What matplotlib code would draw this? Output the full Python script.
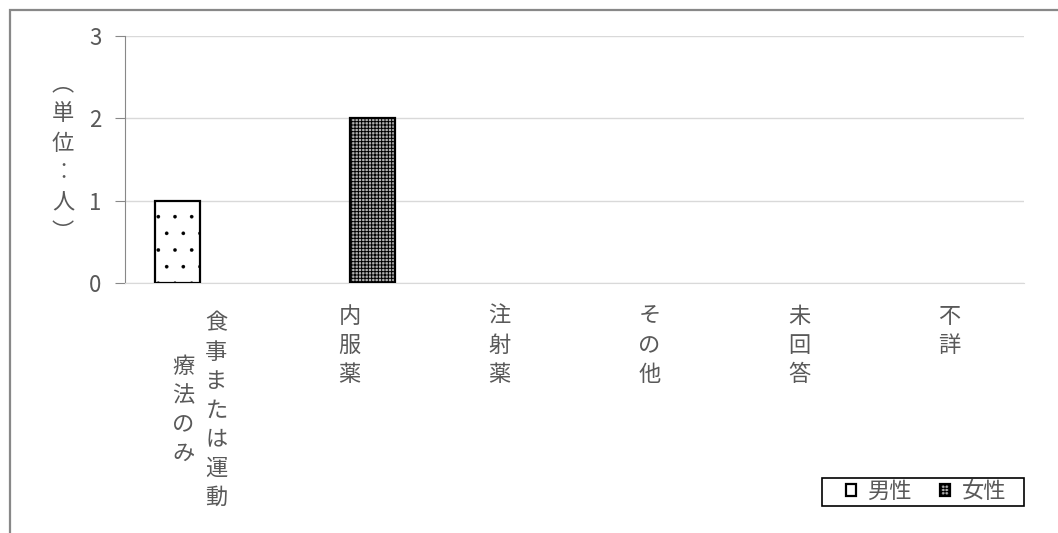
import matplotlib.pyplot as plt
import matplotlib.transforms as mtransforms
from matplotlib.patches import Rectangle
import numpy as np

plt.rcParams['font.family'] = ['Noto Sans CJK JP', 'DejaVu Sans']

############################
# data
############################
categories = ["食事または運動療法のみ", "内服薬", "注射薬", "その他", "未回答", "不詳"]
label_cols = [["食事または運動", "療法のみ"], ["内服薬"], ["注射薬"], ["その他"], ["未回答"], ["不詳"]]
male = [1, 0, 0, 0, 0, 0]
female = [0, 2, 0, 0, 0, 0]
series_names = ["男性", "女性"]
yticks = [0, 1, 2, 3]
ylabel_chars = ["︵", "単", "位", "︰", "人", "︶"]

txt = '#595959'
W, H = 1058, 533

fig = plt.figure(figsize=(W / 100, H / 100), dpi=100)
ax = fig.add_axes([125 / W, 1 - 283 / H, 899 / W, 247 / H])

# outer chart frame (runs off right and bottom)
fig.patches.append(Rectangle((10 / W, -0.1), 1.2, 1 - 10 / H + 0.1,
                             transform=fig.transFigure, fill=False,
                             edgecolor='#888888', linewidth=1.6))

x = np.arange(len(categories))
bw = 0.3
m = np.array(male, dtype=float)
f = np.array(female, dtype=float)
m[m == 0] = np.nan
f[f == 0] = np.nan
plt.rcParams['hatch.linewidth'] = 0.2
ax.bar(x - bw / 2, m, bw, color='white', edgecolor='black', linewidth=1.6,
       hatch='.', label=series_names[0], zorder=3)
plt.rcParams['hatch.linewidth'] = 0.7
ax.bar(x + bw / 2, f, bw, color='#b0b0b0', edgecolor='black', linewidth=1.6,
       hatch='+++++', label=series_names[1], zorder=3)

ax.set_xlim(-0.5, len(categories) - 0.5)
ax.set_ylim(0, 3)
ax.set_yticks(yticks)
ax.set_yticklabels([str(v) for v in yticks], fontsize=16, color=txt)
ax.tick_params(axis='y', length=7, color='#888888', pad=10)
ax.set_xticks([])
ax.grid(axis='y', color='#d9d9d9', linewidth=1)
ax.set_axisbelow(True)
for s in ['top', 'right']:
    ax.spines[s].set_visible(False)
ax.spines['left'].set_color('#888888')
ax.spines['bottom'].set_color('#d9d9d9')

# vertical category labels
trans = mtransforms.blended_transform_factory(ax.transData, ax.transAxes)
px = 1 / 247  # axes-fraction per pixel (vertical)
for i, cols in enumerate(label_cols):
    if len(cols) == 1:
        ax.text(i, -(317 - 283 - 12) * px, "\n".join(cols[0]), transform=trans,
                ha='center', va='top', fontsize=16, color=txt, linespacing=1.33)
    else:
        n = len(cols)
        for j, c in enumerate(cols):
            dx = (n - 1) / 2 - j
            ax.text(i + dx * 0.22, -(410 - 283) * px, "\n".join(c), transform=trans,
                    ha='center', va='center', fontsize=16, color=txt, linespacing=1.33)

# vertical y label
fig.text(63 / W, 1 - 158 / H, "\n".join(ylabel_chars), ha='center', va='center',
         fontsize=16, color=txt, linespacing=1.38)

leg = ax.legend(loc='lower right', bbox_to_anchor=(1006 / W, (H - 503) / H),
                bbox_transform=fig.transFigure, ncol=2, frameon=False,
                fontsize=16, handlelength=0.45, handleheight=0.45,
                handletextpad=0.5, columnspacing=1.3, borderpad=0,
                borderaxespad=0)
for t in leg.get_texts():
    t.set_color(txt)

# legend frame with wider side padding
fig.canvas.draw()
bb = leg.get_window_extent().transformed(fig.transFigure.inverted())
fig.patches.append(Rectangle((bb.x0 - 24 / W, bb.y0 - 3 / H),
                             bb.width + 42 / W, bb.height + 5 / H,
                             transform=fig.transFigure, fill=False,
                             edgecolor='black', linewidth=1.2))

fig.savefig('out.png', dpi=100)
